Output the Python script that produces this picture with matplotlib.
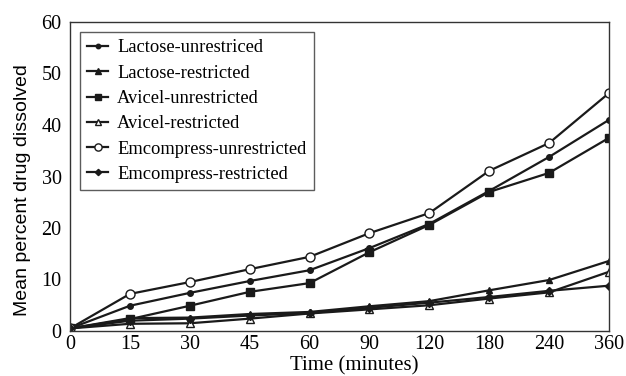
import matplotlib
matplotlib.use("Agg")
import matplotlib.pyplot as plt

times = ["0", "15", "30", "45", "60", "90", "120", "180", "240", "360"]
lactose_unres = [0.5, 4.9, 7.4, 9.7, 11.8, 16.1, 20.8, 27.2, 33.8, 41.0]
lactose_res = [0.5, 2.5, 2.6, 3.3, 3.7, 4.8, 5.8, 7.9, 9.9, 13.6]
avicel_unres = [0.5, 2.3, 4.9, 7.6, 9.3, 15.3, 20.6, 27.0, 30.7, 37.5]
avicel_res = [0.5, 1.4, 1.5, 2.4, 3.4, 4.2, 5.0, 6.3, 7.5, 11.5]
emcomp_unres = [0.5, 7.2, 9.5, 12.0, 14.4, 19.0, 22.9, 31.1, 36.5, 46.2]
emcomp_res = [0.5, 2.0, 2.4, 3.0, 3.5, 4.5, 5.5, 6.6, 7.8, 8.8]

labels = ["Lactose-unrestriced", "Lactose-restricted", "Avicel-unrestricted",
          "Avicel-restricted", "Emcompress-unrestricted", "Emcompress-restricted"]

serif = "Liberation Serif"
fig = plt.figure(figsize=(6.26, 3.76), dpi=100)
ax = fig.add_axes([70/626, 1-331/376, (609-70)/626, (331-22)/376])

x = list(range(len(times)))
c = "#1a1a1a"
lw = 1.6
ax.plot(x, lactose_unres, color=c, lw=lw, marker="o", ms=4, label=labels[0])
ax.plot(x, lactose_res, color=c, lw=lw, marker="^", ms=5, label=labels[1])
ax.plot(x, avicel_unres, color=c, lw=lw, marker="s", ms=5.5, label=labels[2])
ax.plot(x, avicel_res, color=c, lw=lw, marker="^", ms=6, mfc="white", label=labels[3])
ax.plot(x, emcomp_unres, color=c, lw=lw, marker="o", ms=6.5, mfc="white", label=labels[4])
ax.plot(x, emcomp_res, color=c, lw=lw, marker="D", ms=4, label=labels[5])

ax.set_xlim(0, 9)
ax.set_ylim(0, 60)
ax.set_xticks(x)
ax.set_xticklabels(times, fontsize=14.5, family=serif)
ax.set_yticks(range(0, 61, 10))
ax.set_yticklabels([str(v) for v in range(0, 61, 10)], fontsize=14.5, family=serif)
ax.tick_params(length=0)
ax.tick_params(axis="x", pad=3)
ax.tick_params(axis="y", pad=6)
for s in ax.spines.values():
    s.set_color("#333333")
    s.set_linewidth(1.0)

ax.set_xlabel("Time (minutes)", fontsize=15, family=serif)
ax.xaxis.set_label_coords((354-70)/539, (331-375)/309)
ax.xaxis.label.set_va("bottom")
ax.set_ylabel("Mean percent drug dissolved", fontsize=14, family="Liberation Sans")
ax.yaxis.set_label_coords((31-70)/539, (331-190)/309)

leg = ax.legend(loc="upper left", bbox_to_anchor=(10/539, 1-10/309), prop={"family": serif, "size": 13.3},
                frameon=True, fancybox=False, edgecolor="#333333", handlelength=1.1,
                handletextpad=0.5, labelspacing=0.45, borderpad=0.4, markerscale=0.8,
                borderaxespad=0)
leg.get_frame().set_linewidth(1.0)

fig.savefig("out.png", dpi=100)
